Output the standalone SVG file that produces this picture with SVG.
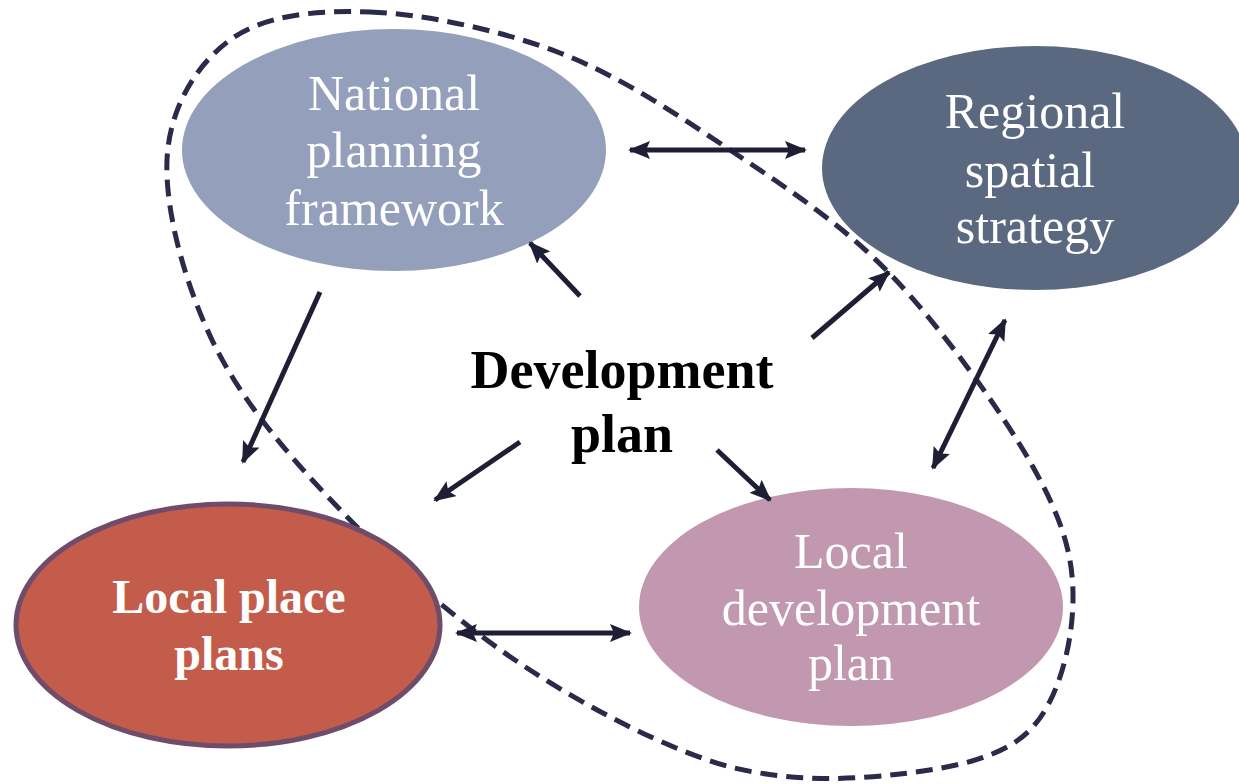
<svg xmlns="http://www.w3.org/2000/svg" width="1239" height="784" viewBox="0 0 1239 784">
<style>
.lbl{font-family:"Liberation Serif","Times New Roman",serif;fill:#ffffff;text-anchor:middle;font-size:50px}
.b{font-weight:bold}
.con{stroke:#1e1e35;stroke-width:5;fill:none}
.dp{font-family:"Liberation Serif","Times New Roman",serif;font-weight:bold;font-size:54px;fill:#000000;text-anchor:middle}
</style>
<defs>
<marker id="ah" markerUnits="userSpaceOnUse" markerWidth="22" markerHeight="18" refX="20" refY="9" orient="auto-start-reverse">
<path d="M0,0 L22,9 L0,18 L4,9 Z" fill="#1e1e35"/>
</marker>
</defs>
<rect width="1239" height="784" fill="#ffffff"/>
<g id="regional">
<ellipse cx="1035" cy="168" rx="213" ry="122" fill="#5a6880"/>
<text class="lbl" x="1035" y="128">Regional</text>
<text class="lbl" x="1030" y="187">spatial</text>
<text class="lbl" x="1035" y="243">strategy</text>
</g>
<g id="devplan-boundary">
<path d="M 370 12 C 425 14.2 499.5 29.7 560 53 C 620.5 76.3 677.5 114.7 733 152 C 788.5 189.3 843 224.5 893 277 C 943 329.5 1003 413.2 1033 467 C 1063 520.8 1073.5 556.2 1073 600 C 1072.5 643.8 1058.8 700.8 1030 730 C 1001.2 759.2 950 768 900 774 C 850 780 791.7 782 730 767 C 668.3 749.5 592.8 710.7 530 670 C 467.2 629.3 405.2 576.3 353 523 C 300.8 469.7 248 410.5 217 350 C 186 289.5 164.8 211.7 167 160 C 169.2 108.3 196.2 64.7 230 40 C 263.8 15.3 315 9.8 370 12 Z" fill="none" stroke="#2a2a4a" stroke-width="5" stroke-dasharray="17,9"/>
</g>
<g id="national">
<ellipse cx="394" cy="150" rx="212" ry="121" fill="#949fbb"/>
<text class="lbl" x="394" y="110">National</text>
<text class="lbl" x="394" y="167">planning</text>
<text class="lbl" x="394" y="225">framework</text>
</g>
<g id="localplace">
<ellipse cx="228" cy="625" rx="212" ry="121" fill="#c45c4b" stroke="#6f4d6a" stroke-width="5"/>
<text class="lbl b" x="229" y="613" style="font-size:48px">Local place</text>
<text class="lbl b" x="229" y="670" style="font-size:48px">plans</text>
</g>
<g id="localdev">
<ellipse cx="851" cy="607" rx="212" ry="119" fill="#c198b0"/>
<text class="lbl" x="851" y="568">Local</text>
<text class="lbl" x="851" y="625">development</text>
<text class="lbl" x="851" y="680">plan</text>
</g>
<g id="devplan">
<text class="dp" x="622" y="388">Development</text>
<text class="dp" x="622" y="452">plan</text>
</g>
<g id="connectors">
<line class="con" x1="630" y1="150" x2="805" y2="150" marker-start="url(#ah)" marker-end="url(#ah)"/>
<line class="con" x1="580" y1="296" x2="530" y2="243" marker-end="url(#ah)"/>
<line class="con" x1="320" y1="292" x2="243" y2="462" marker-end="url(#ah)"/>
<line class="con" x1="812" y1="338" x2="889" y2="272" marker-end="url(#ah)"/>
<line class="con" x1="1005" y1="320" x2="933" y2="468" marker-start="url(#ah)" marker-end="url(#ah)"/>
<line class="con" x1="520" y1="442" x2="435" y2="500" marker-end="url(#ah)"/>
<line class="con" x1="717" y1="450" x2="770" y2="500" marker-end="url(#ah)"/>
<line class="con" x1="457" y1="633" x2="630" y2="633" marker-start="url(#ah)" marker-end="url(#ah)"/>
</g>
</svg>
